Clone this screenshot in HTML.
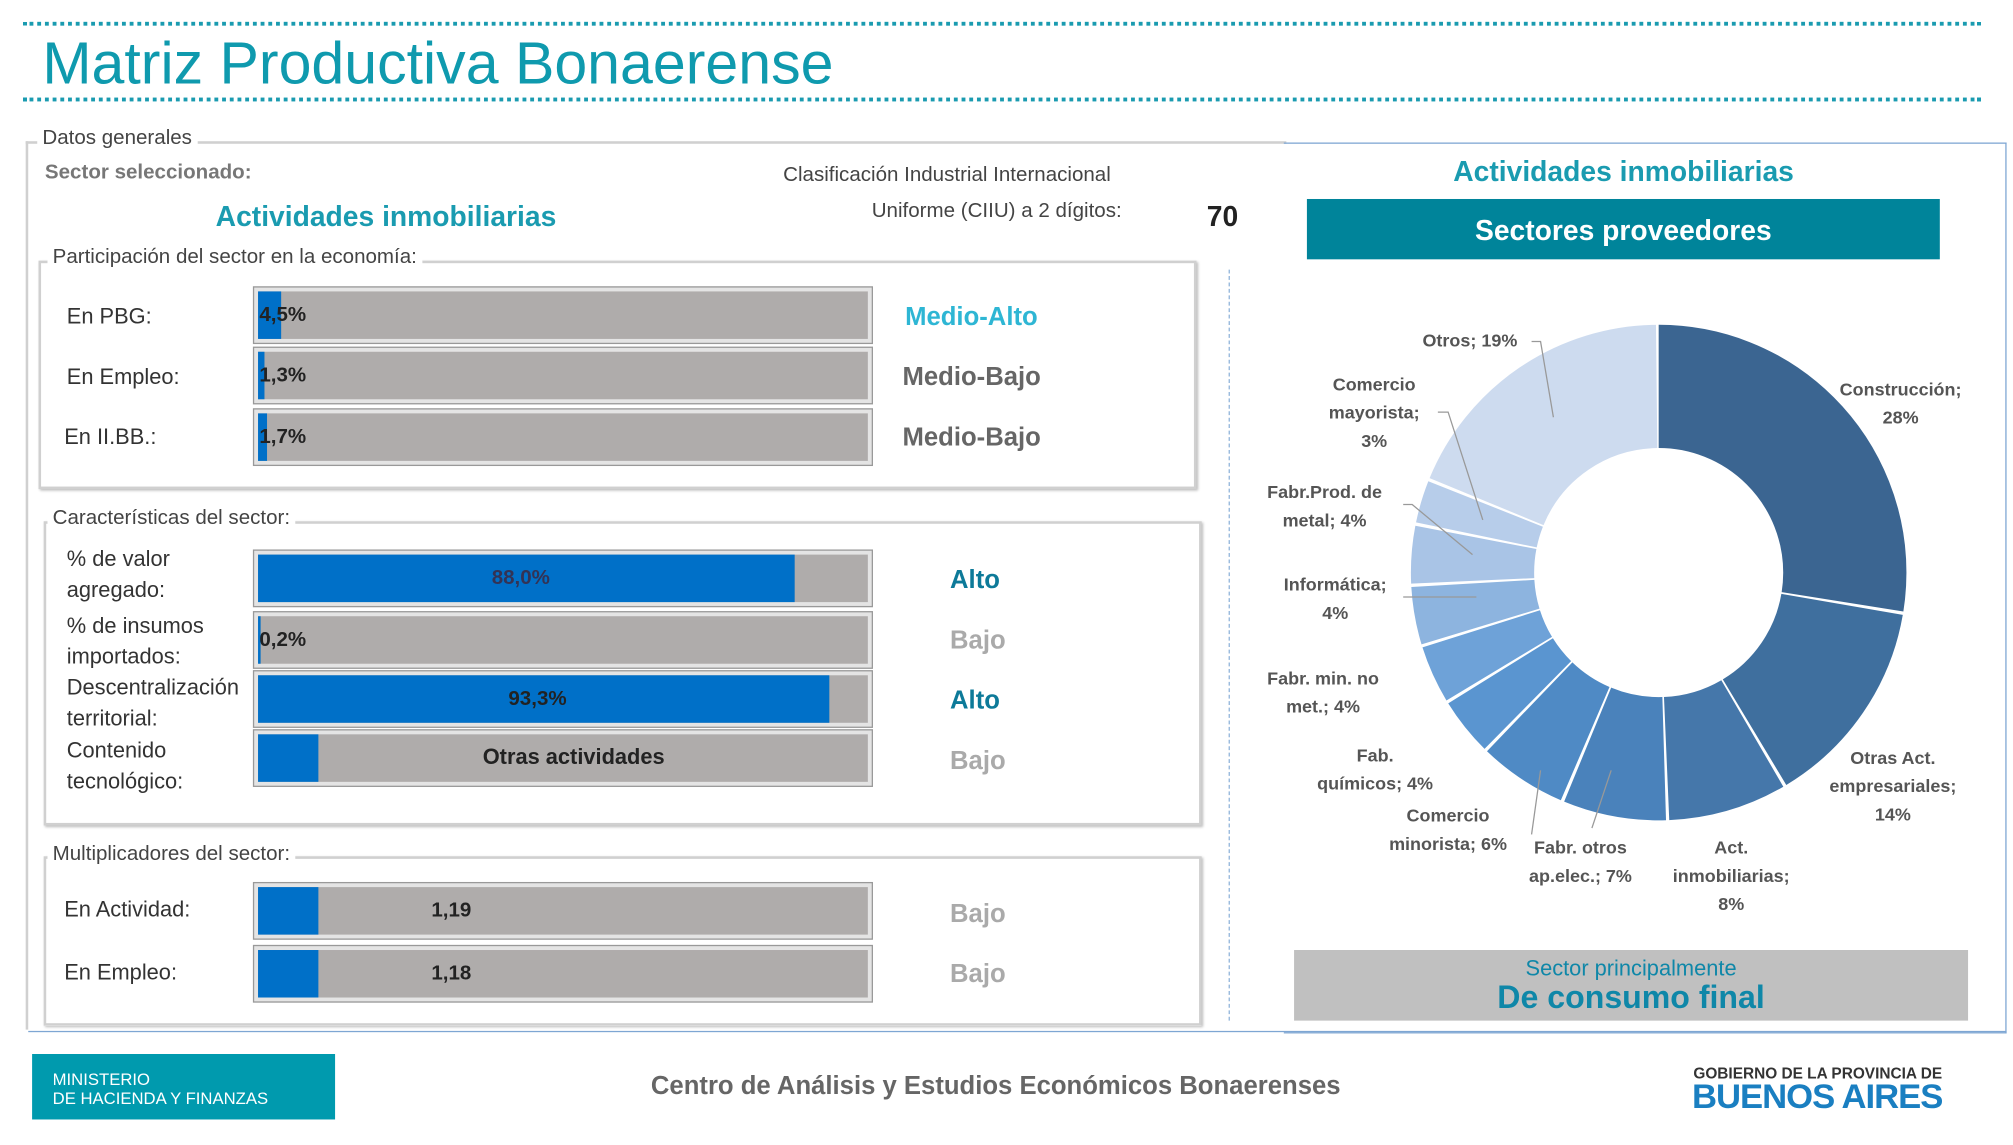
<!DOCTYPE html>
<html><head><meta charset="utf-8"><style>
html,body{margin:0;padding:0;background:#fff;}
body{width:2013px;height:1145px;overflow:hidden;position:relative;}
#w{position:absolute;left:0;top:0;width:1568px;height:892px;transform:scale(1.28380);transform-origin:0 0;font-family:"Liberation Sans",sans-serif;}
.a{position:absolute;white-space:nowrap;}
.dot{position:absolute;left:18px;width:1525px;border-top:3px dotted #1a9bb0;}
.fs{position:absolute;border:2px solid #d0d0d0;box-shadow:1px 1px 2px #bbb;}
.lg{position:absolute;background:#fff;color:#444;font-size:16px;padding:0 4px;}
.bar{position:absolute;left:197px;width:483px;height:45px;background:#e4e4e4;border:1px solid #999;box-sizing:border-box;}
.bar i{position:absolute;left:3px;top:3px;right:3px;bottom:3px;background:#afacab;}
.bar b{position:absolute;left:3px;top:3px;bottom:3px;background:#0070c8;}
.bar s{position:absolute;text-decoration:none;font-weight:bold;font-size:16px;color:#222;top:13px;}
.lb{position:absolute;font-size:17px;color:#333;line-height:24px;}
.lv{position:absolute;font-weight:bold;font-size:20px;}
.pl{position:absolute;font-size:14px;font-weight:bold;color:#555;text-align:center;line-height:22px;}
</style></head><body><div id="w">
<div class="dot" style="top:17px"></div>
<div class="a" style="left:33px;top:22px;font-size:46px;color:#0f9aae;">Matriz Productiva Bonaerense</div>
<div class="dot" style="top:76px"></div>

<div class="fs" style="left:20px;top:110px;width:980px;height:690px;border-right:none;border-bottom:none;box-shadow:none"></div>
<div class="lg" style="left:29px;top:99px;">Datos generales</div>
<div class="a" style="left:35px;top:126px;font-size:16px;font-weight:bold;color:#777;">Sector seleccionado:</div>
<div class="a" style="left:168px;top:156px;font-size:22px;font-weight:bold;color:#1a9bb0;">Actividades inmobiliarias</div>
<div class="a" style="left:610px;top:128px;font-size:16px;color:#444;">Clasificación Industrial Internacional</div>
<div class="a" style="left:679px;top:156px;font-size:16px;color:#444;">Uniforme (CIIU) a 2 dígitos:</div>
<div class="a" style="left:940px;top:156px;font-size:22px;font-weight:bold;color:#222;">70</div>

<div class="fs" style="left:30px;top:203px;width:898px;height:174px;"></div>
<div class="lg" style="left:37px;top:192px;">Participación del sector en la economía:</div>
<div class="lb" style="left:52px;top:235px">En PBG:</div>
<div class="lb" style="left:52px;top:282px">En Empleo:</div>
<div class="lb" style="left:50px;top:329px">En II.BB.:</div>
<div class="bar" style="top:223px"><i></i><b style="width:18px"></b><s style="left:4px">4,5%</s></div>
<div class="bar" style="top:270px"><i></i><b style="width:5px"></b><s style="left:4px">1,3%</s></div>
<div class="bar" style="top:318px"><i></i><b style="width:7px"></b><s style="left:4px">1,7%</s></div>
<div class="lv" style="left:705px;top:236px;color:#2eb6d4">Medio-Alto</div>
<div class="lv" style="left:703px;top:283px;color:#666">Medio-Bajo</div>
<div class="lv" style="left:703px;top:330px;color:#666">Medio-Bajo</div>

<div class="fs" style="left:34px;top:406px;width:898px;height:233px;"></div>
<div class="lg" style="left:37px;top:395px;">Características del sector:</div>
<div class="lb" style="left:52px;top:424px">% de valor<br>agregado:</div>
<div class="lb" style="left:52px;top:476px">% de insumos<br>importados:</div>
<div class="lb" style="left:52px;top:524px">Descentralización<br>territorial:</div>
<div class="lb" style="left:52px;top:573px">Contenido<br>tecnológico:</div>
<div class="bar" style="top:428px"><i></i><b style="width:418px"></b><s style="left:185px;color:#335">88,0%</s></div>
<div class="bar" style="top:476px"><i></i><b style="width:2px"></b><s style="left:4px">0,2%</s></div>
<div class="bar" style="top:522px"><i></i><b style="width:445px"></b><s style="left:198px">93,3%</s></div>
<div class="bar" style="top:568px"><i></i><b style="width:47px"></b><s style="left:178px;font-size:17px;top:11px">Otras actividades</s></div>
<div class="lv" style="left:740px;top:441px;color:#0d7a99">Alto</div>
<div class="lv" style="left:740px;top:488px;color:#aaa">Bajo</div>
<div class="lv" style="left:740px;top:535px;color:#0d7a99">Alto</div>
<div class="lv" style="left:740px;top:582px;color:#aaa">Bajo</div>

<div class="fs" style="left:34px;top:667px;width:898px;height:128px;"></div>
<div class="lg" style="left:37px;top:657px;">Multiplicadores del sector:</div>
<div class="lb" style="left:50px;top:697px">En Actividad:</div>
<div class="lb" style="left:50px;top:746px">En Empleo:</div>
<div class="bar" style="top:687px"><i></i><b style="width:47px"></b><s style="left:138px">1,19</s></div>
<div class="bar" style="top:736px"><i></i><b style="width:47px"></b><s style="left:138px">1,18</s></div>
<div class="lv" style="left:740px;top:701px;color:#aaa">Bajo</div>
<div class="lv" style="left:740px;top:748px;color:#aaa">Bajo</div>

<div style="position:absolute;left:957px;top:210px;height:585px;border-left:1px dashed #8fb3d9"></div>
<div style="position:absolute;left:1000px;top:111px;width:562px;height:692px;border:1px solid #7ea6d3;border-left:none"></div>
<div style="position:absolute;left:22px;top:803px;width:1541px;border-top:1px solid #7ea6d3"></div>

<div class="a" style="left:1132px;top:121px;font-size:22px;font-weight:bold;color:#1a9bb0;">Actividades inmobiliarias</div>
<div class="a" style="left:1018px;top:155px;width:493px;height:47px;background:#00849a;color:#fff;font-size:22px;font-weight:bold;text-align:center;line-height:49px;">Sectores proveedores</div>

<svg style="position:absolute;left:0;top:0" width="1568" height="892">
<g transform="translate(1292,446) rotate(-90)" fill="none" stroke-width="96">
<circle r="145" stroke="#3b6591" stroke-dasharray="250.6 1000" stroke-dashoffset="0"/>
<circle r="145" stroke="#3f6f9e" stroke-dasharray="124.3 1000" stroke-dashoffset="-252.6"/>
<circle r="145" stroke="#4577aa" stroke-dasharray="70.2 1000" stroke-dashoffset="-378.9"/>
<circle r="145" stroke="#4a82bb" stroke-dasharray="61.1 1000" stroke-dashoffset="-451.0"/>
<circle r="145" stroke="#4f8ac5" stroke-dasharray="52.1 1000" stroke-dashoffset="-514.2"/>
<circle r="145" stroke="#5a95d0" stroke-dasharray="34.1 1000" stroke-dashoffset="-568.3"/>
<circle r="145" stroke="#6ea2d8" stroke-dasharray="34.1 1000" stroke-dashoffset="-604.4"/>
<circle r="145" stroke="#8db4df" stroke-dasharray="34.1 1000" stroke-dashoffset="-640.4"/>
<circle r="145" stroke="#a9c4e6" stroke-dasharray="34.1 1000" stroke-dashoffset="-676.5"/>
<circle r="145" stroke="#b7cdea" stroke-dasharray="25.1 1000" stroke-dashoffset="-712.6"/>
<circle r="145" stroke="#cddbef" stroke-dasharray="169.4 1000" stroke-dashoffset="-739.7"/>
</g>
<g stroke="#999" fill="none" stroke-width="1">
<polyline points="1193,266 1200,266 1210,325"/>
<polyline points="1120,321 1128,321 1155,405"/>
<polyline points="1093,393 1100,393 1147,432"/>
<polyline points="1093,465 1150,465"/>
<polyline points="1193,650 1200,600"/>
<polyline points="1240,645 1255,600"/>
</g>
</svg>
<div class="pl" style="left:1108px;top:254px">Otros; 19%</div>
<div class="pl" style="left:1433px;top:292px">Construcción;<br>28%</div>
<div class="pl" style="left:1035px;top:288px">Comercio<br>mayorista;<br>3%</div>
<div class="pl" style="left:987px;top:372px">Fabr.Prod. de<br>metal; 4%</div>
<div class="pl" style="left:1000px;top:444px">Informática;<br>4%</div>
<div class="pl" style="left:987px;top:517px">Fabr. min. no<br>met.; 4%</div>
<div class="pl" style="left:1026px;top:577px">Fab.<br>químicos; 4%</div>
<div class="pl" style="left:1082px;top:624px">Comercio<br>minorista; 6%</div>
<div class="pl" style="left:1191px;top:649px">Fabr. otros<br>ap.elec.; 7%</div>
<div class="pl" style="left:1303px;top:649px">Act.<br>inmobiliarias;<br>8%</div>
<div class="pl" style="left:1425px;top:579px">Otras Act.<br>empresariales;<br>14%</div>

<div class="a" style="left:1008px;top:740px;width:525px;height:55px;background:#c0c0c0;text-align:center;">
<div style="font-size:17px;color:#0f87a8;margin-top:5px">Sector principalmente</div>
<div style="font-size:25px;font-weight:bold;color:#0f87a8;line-height:24px">De consumo final</div></div>

<div class="a" style="left:25px;top:821px;width:236px;height:51px;background:#009aae;color:#fff;font-size:13px;line-height:15px;"><div style="padding:12px 0 0 16px">MINISTERIO<br>DE HACIENDA Y FINANZAS</div></div>
<div class="a" style="left:507px;top:835px;font-size:20px;font-weight:bold;color:#666;">Centro de Análisis y Estudios Económicos Bonaerenses</div>
<div class="a" style="left:1319px;top:829px;font-size:12px;font-weight:bold;color:#333;">GOBIERNO DE LA PROVINCIA DE</div>
<div class="a" style="left:1318px;top:839px;font-size:27px;font-weight:bold;color:#1a7fc1;letter-spacing:-0.8px">BUENOS AIRES</div>
</div></body></html>
